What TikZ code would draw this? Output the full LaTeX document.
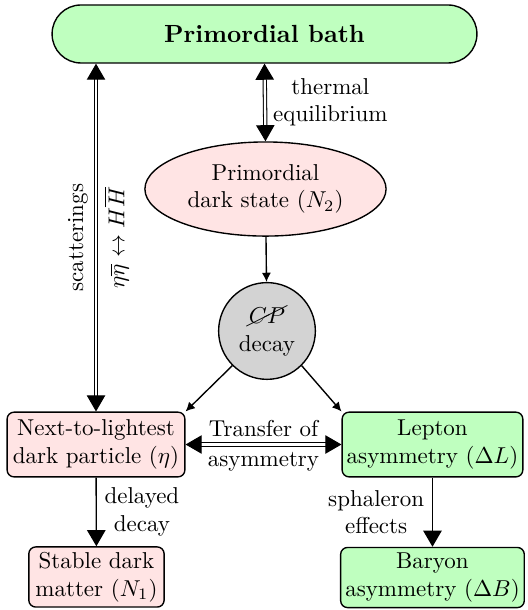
\documentclass[tikz,border=0pt]{standalone}
\usepackage{cancel}
\usetikzlibrary{arrows.meta,shapes.geometric}
\definecolor{bathgreen}{RGB}{191,255,191}
\definecolor{darkpink}{RGB}{255,228,228}
\definecolor{decaygray}{RGB}{211,211,211}
\tikzset{
  greenbox/.style={draw,semithick,fill=bathgreen,rounded corners=3pt,align=center,inner sep=2pt},
  pinkbox/.style={draw,semithick,fill=darkpink,rounded corners=3pt,align=center,inner sep=2pt},
  dbl/.style={double,double distance=1pt,line width=0.45pt},
  bigtip/.style={semithick,-{Triangle[width=8pt,length=7pt]}},
  bigtips/.style={{Triangle[width=8pt,length=7pt]}-{Triangle[width=8pt,length=7pt]}},
  smalltip/.style={semithick,-{Latex[width=4pt,length=4pt]}},
}
\begin{document}
\begin{tikzpicture}
\useasboundingbox (0,0) rectangle (8.078,9.333);

\node[draw,semithick,fill=bathgreen,rounded corners=0.44cm,minimum width=6.5cm,minimum height=0.887cm,font=\fontsize{10.8}{13}\selectfont\bfseries] at (4.047,8.813) (bath) {Primordial bath};
\node[draw,semithick,ellipse,fill=darkpink,minimum width=3.69cm,minimum height=1.44cm,inner sep=1pt,align=center] at (4.062,6.441) (N2) {Primordial\\dark state $(N_2)$};
\node[draw,semithick,circle,fill=decaygray,minimum size=1.48cm,inner sep=0pt,align=center] at (4.085,4.269) (cp) {$\cancel{CP}$\\decay};

\node[pinkbox,minimum width=2.72cm,minimum height=0.99cm] at (1.469,2.532) (eta) {Next-to-lightest\\dark particle $(\eta)$};
\node[greenbox,minimum width=2.72cm,minimum height=0.99cm] at (6.617,2.532) (DL) {Lepton\\asymmetry $(\Delta L)$};
\node[pinkbox,minimum width=2.07cm,minimum height=0.92cm] at (1.476,0.505) (N1) {Stable dark\\matter $(N_1)$};
\node[greenbox,minimum width=2.72cm,minimum height=0.92cm] at (6.617,0.497) (DB) {Baryon\\asymmetry $(\Delta B)$};

\draw[dbl,bigtips] (N2.north) -- node[right,align=center]{thermal\\equilibrium} (bath.south);
\draw[dbl,bigtips] (eta.north) -- node[midway,sloped,above]{scatterings} node[midway,sloped,below]{$\eta\overline{\eta}\leftrightarrow H\overline{H}$} (eta.north |- bath.south);
\draw[smalltip] (N2) -- (cp);
\draw[smalltip] (cp.south west) -- (eta.north east);
\draw[smalltip] (cp.south east) -- (DL.north west);
\draw[dbl,bigtips] (eta) -- node[above]{Transfer of} node[below]{asymmetry} (DL);
\draw[bigtip] (eta) -- node[right,align=center]{delayed\\decay} (N1);
\draw[bigtip] (DL) -- node[left,align=center]{sphaleron\\effects} (DB);

\end{tikzpicture}
\end{document}
